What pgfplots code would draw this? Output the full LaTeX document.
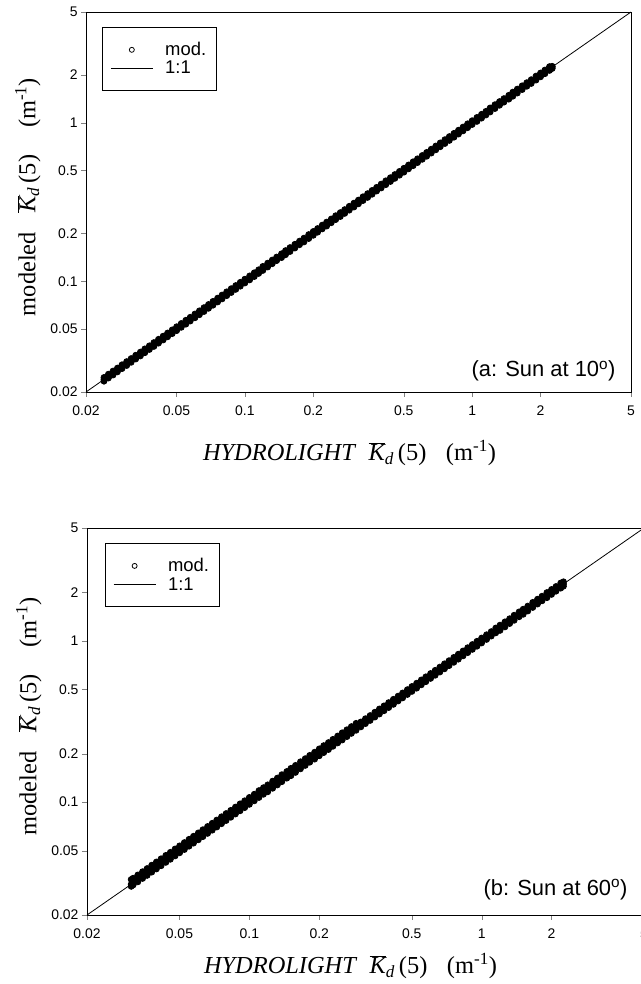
\documentclass[border=0pt]{standalone}
\usepackage{pgfplots}
\pgfplotsset{compat=1.18}
\usepackage{pgfplotstable}
\usepackage{fontspec}
\setmainfont{Liberation Serif}
\newfontfamily\arial{Liberation Sans}

\pgfplotstableread{
x a b
0.024 0.0247 0.0234
0.0251 0.0259 0.0245
0.0263 0.0271 0.0256
0.0275 0.0283 0.0268
0.0288 0.0297 0.0281
0.0302 0.0311 0.0294
0.0316 0.0325 0.0308
0.0331 0.0341 0.0323
0.0347 0.0357 0.0338
0.0363 0.0374 0.0354
0.038 0.0391 0.0371
0.0398 0.0410 0.0388
0.0417 0.0430 0.0407
0.0437 0.0450 0.0426
0.0457 0.0471 0.0446
0.0479 0.0493 0.0467
0.0501 0.0516 0.0488
0.0525 0.0541 0.0512
0.055 0.0567 0.0536
0.0575 0.0592 0.0561
0.0603 0.0621 0.0588
0.0631 0.0650 0.0615
0.0661 0.0681 0.0644
0.0692 0.0713 0.0675
0.0724 0.0746 0.0706
0.0759 0.0782 0.0740
0.0794 0.0818 0.0774
0.0832 0.0857 0.0811
0.0871 0.0897 0.0849
0.0912 0.0939 0.0889
0.0955 0.0984 0.0931
0.1 0.103 0.0975
0.105 0.108 0.102
0.11 0.113 0.107
0.115 0.118 0.112
0.12 0.124 0.117
0.126 0.130 0.123
0.132 0.136 0.129
0.138 0.142 0.135
0.145 0.149 0.141
0.151 0.156 0.147
0.158 0.163 0.154
0.166 0.171 0.162
0.174 0.179 0.170
0.182 0.187 0.177
0.191 0.197 0.186
0.2 0.206 0.195
0.209 0.215 0.204
0.219 0.226 0.214
0.229 0.236 0.223
0.24 0.247 0.234
0.251 0.259 0.245
0.263 0.271 0.256
0.275 0.283 0.268
0.288 0.297 0.281
0.302 0.311 0.294
0.316 0.325 0.308
0.331 0.341 0.323
0.347 0.357 0.338
0.363 0.374 0.354
0.38 0.391 0.371
0.398 0.410 0.388
0.417 0.430 0.407
0.437 0.450 0.426
0.457 0.471 0.446
0.479 0.493 0.467
0.501 0.516 0.488
0.525 0.541 0.512
0.55 0.567 0.536
0.575 0.592 0.561
0.603 0.621 0.588
0.631 0.650 0.615
0.661 0.681 0.644
0.692 0.713 0.675
0.724 0.746 0.706
0.759 0.782 0.740
0.794 0.818 0.774
0.832 0.857 0.811
0.871 0.897 0.849
0.912 0.939 0.889
0.955 0.984 0.931
1.0 1.03 0.975
1.05 1.08 1.02
1.1 1.13 1.07
1.15 1.18 1.12
1.2 1.24 1.17
1.26 1.30 1.23
1.32 1.36 1.29
1.38 1.42 1.35
1.45 1.49 1.41
1.51 1.56 1.47
1.58 1.63 1.54
1.66 1.71 1.62
1.74 1.79 1.70
1.82 1.87 1.77
1.91 1.97 1.86
2.0 2.06 1.95
2.09 2.15 2.04
2.19 2.26 2.14
2.25 2.27 2.20
}\toptab

\pgfplotstableread{
x a b
0.031 0.0332 0.0301
0.0316 0.0338 0.0307
0.0331 0.0354 0.0321
0.0347 0.0371 0.0337
0.0363 0.0388 0.0352
0.038 0.0407 0.0369
0.0398 0.0426 0.0386
0.0417 0.0446 0.0404
0.0437 0.0468 0.0424
0.0457 0.0489 0.0443
0.0479 0.0513 0.0465
0.0501 0.0536 0.0486
0.0525 0.0562 0.0509
0.055 0.0589 0.0534
0.0575 0.0615 0.0558
0.0603 0.0645 0.0585
0.0631 0.0675 0.0612
0.0661 0.0707 0.0641
0.0692 0.0740 0.0671
0.0724 0.0775 0.0702
0.0759 0.0812 0.0736
0.0794 0.0850 0.0770
0.0832 0.0890 0.0807
0.0871 0.0932 0.0845
0.0912 0.0976 0.0885
0.0955 0.102 0.0926
0.1 0.107 0.097
0.105 0.112 0.102
0.11 0.118 0.107
0.115 0.123 0.112
0.12 0.128 0.116
0.126 0.135 0.122
0.132 0.141 0.128
0.138 0.148 0.134
0.145 0.155 0.141
0.151 0.162 0.146
0.158 0.169 0.153
0.166 0.178 0.161
0.174 0.186 0.169
0.182 0.195 0.177
0.191 0.204 0.185
0.2 0.214 0.194
0.209 0.224 0.203
0.219 0.234 0.212
0.229 0.245 0.222
0.24 0.257 0.233
0.251 0.269 0.243
0.263 0.281 0.255
0.275 0.294 0.267
0.288 0.308 0.279
0.302 0.314 0.293
0.316 0.329 0.307
0.331 0.344 0.321
0.347 0.361 0.337
0.363 0.378 0.352
0.38 0.395 0.369
0.398 0.414 0.386
0.417 0.434 0.404
0.437 0.454 0.424
0.457 0.475 0.443
0.479 0.498 0.465
0.501 0.521 0.486
0.525 0.546 0.509
0.55 0.572 0.534
0.575 0.598 0.558
0.603 0.627 0.585
0.631 0.656 0.612
0.661 0.687 0.641
0.692 0.720 0.671
0.724 0.753 0.702
0.759 0.789 0.736
0.794 0.826 0.770
0.832 0.865 0.807
0.871 0.906 0.845
0.912 0.948 0.885
0.955 0.993 0.926
1.0 1.04 0.97
1.05 1.09 1.02
1.1 1.14 1.07
1.15 1.20 1.12
1.2 1.25 1.16
1.26 1.31 1.22
1.32 1.37 1.28
1.38 1.44 1.34
1.45 1.51 1.41
1.51 1.57 1.46
1.58 1.64 1.53
1.66 1.73 1.61
1.74 1.81 1.69
1.82 1.89 1.77
1.91 1.99 1.85
2.0 2.08 1.94
2.09 2.17 2.03
2.19 2.28 2.12
2.25 2.32 2.18
}\bottab

\newcommand{\Kd}{$\overline{\mbox{\itshape K}}$\textsubscript{\itshape d}\,(5)}
\newcommand{\tickfont}{\arial\fontsize{14}{16}\selectfont}
\newcommand{\labfont}{\fontsize{24.5}{28}\selectfont}
\newcommand{\legfont}{\arial\fontsize{18.5}{21}\selectfont}
\newcommand{\unit}{(m\textsuperscript{-1})}

\begin{document}
\begin{tikzpicture}
\path[use as bounding box] (0bp,0bp) rectangle (641bp,984bp);

\begin{axis}[at={(86bp,592bp)}, anchor=south west,
  scale only axis, width=545bp, height=380bp,
  xmode=log, ymode=log,
  xmin=0.02, xmax=5, ymin=0.02, ymax=5,
  xtick={0.02,0.05,0.1,0.2,0.5,1,2,5},
  xticklabels={0.02,0.05,0.1,0.2,0.5,1,2,5},
  ytick={0.02,0.05,0.1,0.2,0.5,1,2,5},
  yticklabels={0.02,0.05,0.1,0.2,0.5,1,2,5},
  minor xtick={}, minor ytick={},
  tick align=outside, tick pos=left,
  major tick length=5bp,
  axis line style={line width=0.8bp},
  xticklabel style={font=\tickfont, yshift=-5bp},
  yticklabel style={font=\tickfont},
  xlabel={\textit{HYDROLIGHT}\hspace{0.5em}\Kd\hspace{0.8em}\unit},
  ylabel={modeled\hspace{0.8em}\Kd\hspace{1.1em}\unit},
  xlabel style={font=\labfont, xshift=-9bp, yshift=-18bp},
  ylabel style={font=\labfont, xshift=5bp, yshift=3bp},
  legend cell align=left,
  legend style={font=\legfont, at={(0.0294,0.9605)}, anchor=north west,
      draw=black, line width=0.8bp, inner xsep=8bp, inner ysep=13bp,
      row sep=0bp, nodes={inner sep=2bp},
      /tikz/every odd column/.append style={column sep=10bp}}]
\addplot[only marks, mark=*, mark size=3bp, black, mark options={line width=0.8bp, fill=black},
  legend image code/.code={\draw[black, line width=0.8bp] (21bp,0bp) circle (2.5bp);}]
  table[x=x, y=a] {\toptab};
\addlegendentry{mod.}
\addplot[black, line width=0.8bp, no marks,
  legend image code/.code={\draw[black, line width=0.8bp] (0bp,0bp) -- (42bp,0bp);}]
  coordinates {(0.02,0.02) (5,5)};
\addlegendentry{1:1}
\addplot[only marks, mark=*, mark size=3bp, black, mark options={line width=0.8bp, fill=black}, forget plot]
  table[x=x, y=b] {\toptab};
\addplot[only marks, mark=*, mark size=3bp, black, mark options={line width=0.8bp, fill=black}, forget plot]
  table[x=x, y=x] {\toptab};
\node[anchor=base east, font=\arial\fontsize{22}{26}\selectfont, xshift=-12bp, yshift=15bp] at (rel axis cs:1,0) {(a: Sun at 10\textsuperscript{o})};
\end{axis}

\begin{axis}[at={(87bp,69bp)}, anchor=south west,
  scale only axis, width=557bp, height=387bp,
  xmode=log, ymode=log,
  xmin=0.02, xmax=5, ymin=0.02, ymax=5,
  xtick={0.02,0.05,0.1,0.2,0.5,1,2,5},
  xticklabels={0.02,0.05,0.1,0.2,0.5,1,2,5},
  ytick={0.02,0.05,0.1,0.2,0.5,1,2,5},
  yticklabels={0.02,0.05,0.1,0.2,0.5,1,2,5},
  minor xtick={}, minor ytick={},
  tick align=outside, tick pos=left,
  major tick length=5bp,
  axis line style={line width=0.8bp},
  xticklabel style={font=\tickfont, yshift=-5bp},
  yticklabel style={font=\tickfont},
  xlabel={\textit{HYDROLIGHT}\hspace{0.5em}\Kd\hspace{0.8em}\unit},
  ylabel={modeled\hspace{0.8em}\Kd\hspace{1.1em}\unit},
  xlabel style={font=\labfont, xshift=-15bp, yshift=-8bp},
  ylabel style={font=\labfont, xshift=5bp, yshift=3bp},
  legend cell align=left,
  legend style={font=\legfont, at={(0.032,0.961)}, anchor=north west,
      draw=black, line width=0.8bp, inner xsep=8bp, inner ysep=13bp,
      row sep=0bp, nodes={inner sep=2bp},
      /tikz/every odd column/.append style={column sep=10bp}}]
\addplot[only marks, mark=*, mark size=3bp, black, mark options={line width=0.8bp, fill=black},
  legend image code/.code={\draw[black, line width=0.8bp] (21bp,0bp) circle (2.5bp);}]
  table[x=x, y=a] {\bottab};
\addlegendentry{mod.}
\addplot[black, line width=0.8bp, no marks,
  legend image code/.code={\draw[black, line width=0.8bp] (0bp,0bp) -- (42bp,0bp);}]
  coordinates {(0.02,0.02) (5,5)};
\addlegendentry{1:1}
\addplot[only marks, mark=*, mark size=3bp, black, mark options={line width=0.8bp, fill=black}, forget plot]
  table[x=x, y=b] {\bottab};
\addplot[only marks, mark=*, mark size=3bp, black, mark options={line width=0.8bp, fill=black}, forget plot]
  table[x=x, y=x] {\bottab};
\node[anchor=base east, font=\arial\fontsize{22}{26}\selectfont, xshift=-13bp, yshift=20bp] at (rel axis cs:1,0) {(b: Sun at 60\textsuperscript{o})};
\end{axis}
\end{tikzpicture}
\end{document}
